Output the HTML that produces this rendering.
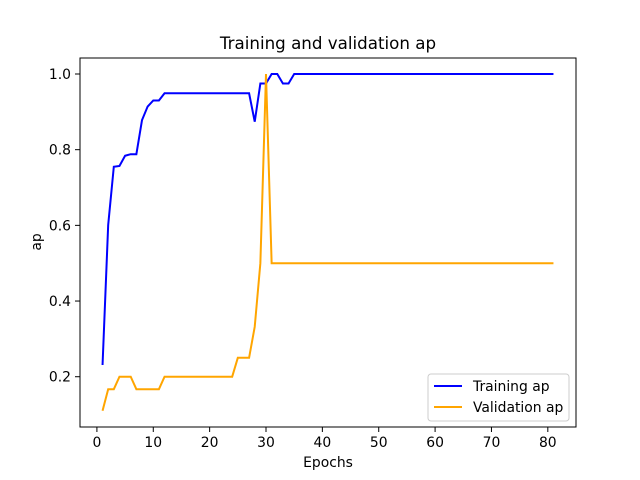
<!DOCTYPE html>
<html><head><meta charset="utf-8"><style>body{margin:0;background:#fff}svg{display:block;font-family:"DejaVu Sans","Liberation Sans",sans-serif}</style></head>
<body>
<svg id="chart" width="640" height="480" xmlns="http://www.w3.org/2000/svg">
<rect width="640" height="480" fill="#fff"/>
<text x="328" y="49" font-size="16.7" text-anchor="middle">Training and validation ap</text>
<g id="ticks"></g>
<polyline id="train" fill="none" stroke="#0000ff" stroke-width="2"/>
<polyline id="val" fill="none" stroke="#ffa500" stroke-width="2"/>
<rect x="80" y="58" width="496" height="369" fill="none" stroke="#000" stroke-width="1"/>
<text x="328" y="467" font-size="13.9" text-anchor="middle">Epochs</text>
<text x="0" y="0" font-size="13.9" text-anchor="middle" transform="translate(41,242) rotate(-90)">ap</text>
<g>
<rect x="428" y="374" width="141" height="47" rx="3" fill="#fff" stroke="#ccc" stroke-width="1"/>
<line x1="434" y1="386" x2="462" y2="386" stroke="#0000ff" stroke-width="2"/>
<text x="473" y="391" font-size="13.9">Training ap</text>
<line x1="434" y1="407" x2="462" y2="407" stroke="#ffa500" stroke-width="2"/>
<text x="473" y="412" font-size="13.9">Validation ap</text>
</g>
</svg>
<script>
const epochs = [];
for (let i = 1; i <= 81; i++) epochs.push(i);
const trainAp = [0.231,0.601,0.755,0.757,0.784,0.788,0.788,0.878,0.914,0.930,0.930,0.949,0.949,0.949,0.949,0.949,0.949,0.949,0.949,0.949,0.949,0.949,0.949,0.949,0.949,0.949,0.949,0.874,0.975,0.975,1,1,0.975,0.975,1];
while (trainAp.length < 81) trainAp.push(1);
const valAp = [0.110,0.167,0.167,0.2,0.2,0.2,0.167,0.167,0.167,0.167,0.167,0.2,0.2,0.2,0.2,0.2,0.2,0.2,0.2,0.2,0.2,0.2,0.2,0.2,0.25,0.25,0.25,0.332,0.5,1.0,0.5];
while (valAp.length < 81) valAp.push(0.5);
const xTicks = [0,10,20,30,40,50,60,70,80];
const yTicks = [0.2,0.4,0.6,0.8,1.0];
const xs = v => 80 + (v + 3) * 496 / 88;
const ys = v => 74 + (1 - v) * 378.4;
const NS = "http://www.w3.org/2000/svg";
const g = document.getElementById('ticks');
function mk(tag, attrs, parent) { const e = document.createElementNS(NS, tag); for (const k in attrs) e.setAttribute(k, attrs[k]); parent.appendChild(e); return e; }
xTicks.forEach(t => {
  const x = xs(t);
  const l = mk('line', {x1:x, x2:x, y1:427, y2:432, stroke:'#000', 'stroke-width':1}, g);
  
  
  const tx = mk('text', {x:x, y:447, 'font-size':13.9, 'text-anchor':'middle'}, g);
  tx.textContent = t;
  
  
});
yTicks.forEach(t => {
  const y = ys(t);
  const l = mk('line', {x1:75, x2:80, y1:y, y2:y, stroke:'#000', 'stroke-width':1}, g);
  
  
  const tx = mk('text', {x:71, y:y + 5, 'font-size':13.9, 'text-anchor':'end'}, g);
  tx.textContent = t.toFixed(1);
  
  
});
document.getElementById('train').setAttribute('points', epochs.map((e,i) => xs(e) + ',' + ys(trainAp[i])).join(' '));
document.getElementById('val').setAttribute('points', epochs.map((e,i) => xs(e) + ',' + ys(valAp[i])).join(' '));
</script>
</body></html>
